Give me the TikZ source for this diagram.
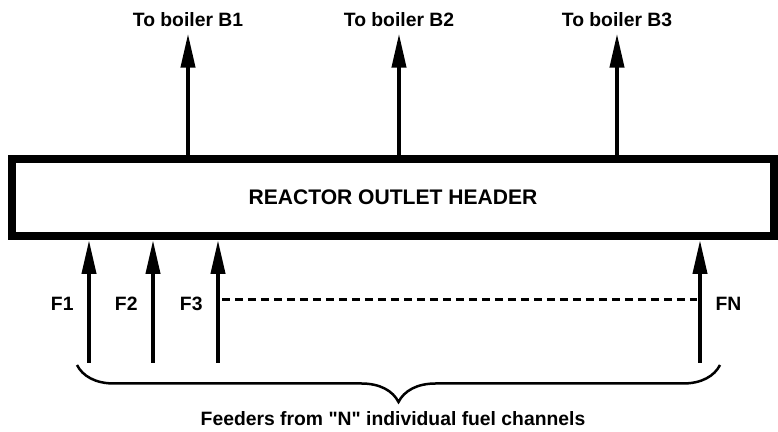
\documentclass[tikz,border=0pt]{standalone}
\usepackage{fontspec}
\setmainfont{Liberation Sans}
\usetikzlibrary{arrows.meta,decorations.pathreplacing,positioning}
\tikzset{
  header/.style={
    draw,
    line width=0.16cm,
    minimum width=15.24cm,
    minimum height=1.54cm,
    font=\fontsize{12}{14}\selectfont\bfseries
  },
  pipe/.style={
    line width=0.08cm,
    -{Triangle[length=0.68cm,width=0.28cm]}
  },
  lbl/.style={
    inner sep=3.5pt,
    font=\fontsize{11}{13}\selectfont\bfseries
  },
  gap/.style={
    line width=0.06cm,
    dash pattern=on 0.16cm off 0.1cm
  },
  brc/.style={
    line width=0.05cm,
    decorate,
    decoration={brace,mirror,amplitude=0.74cm}
  },
}
\begin{document}
\begin{tikzpicture}[x=0.02cm,y=-0.02cm]
\useasboundingbox (0,0) rectangle (778,432);
\node[header] (hdr) at (393,197.5) {REACTOR OUTLET HEADER};
\node[lbl] (b1) at (188,20) {To boiler B1};
\node[lbl] (b2) at (399,20) {To boiler B2};
\node[lbl] (b3) at (617,20) {To boiler B3};
\foreach \b in {b1,b2,b3}{
  \draw[pipe] (hdr.north -| \b) -- (\b.south);
}
\coordinate (f1) at (89,363);
\coordinate (f2) at (153,363);
\coordinate (f3) at (218,363);
\coordinate (fn) at (700,363);
\foreach \f in {f1,f2,f3,fn}{
  \draw[pipe] (\f) -- (\f |- hdr.south);
}
\node[lbl,anchor=east] (l1) at (80,304) {F1};
\node[lbl,anchor=east] (l2) at (144,304) {F2};
\node[lbl,anchor=east] (l3) at (209,304) {F3};
\node[lbl,anchor=west] (ln) at (709,304) {FN};
\coordinate (d1) at (222,300);
\coordinate (d2) at (697,300);
\draw[gap] (d1) -- (d2);
\coordinate (c1) at (77,365);
\coordinate (c2) at (720,365);
\draw[brc] (c1) -- (c2);
\node[lbl] (feed) at (393,419) {Feeders from \textquotedbl N\textquotedbl{} individual fuel channels};
\end{tikzpicture}
\end{document}
